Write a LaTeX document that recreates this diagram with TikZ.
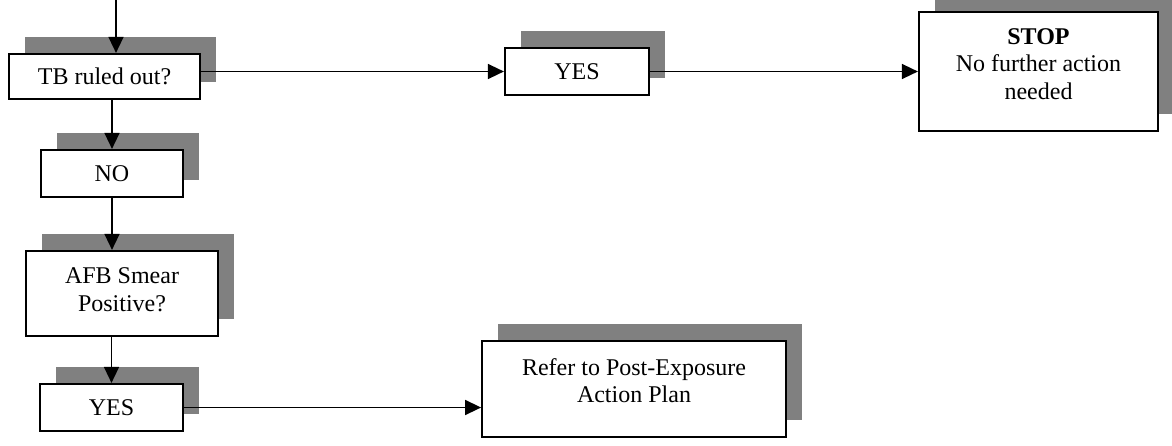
\documentclass[tikz,border=0pt]{standalone}
\usepackage{fontspec}
\setmainfont{Liberation Serif}
\usetikzlibrary{arrows.meta,shadows}

\begin{document}
\begin{tikzpicture}[x=0.5pt,y=-0.5pt,
  every node/.style={font=\fontsize{12}{13.8}\selectfont},
  box/.style={draw,line width=0.9pt,fill=white,align=center,inner sep=0pt,
    drop shadow={shadow xshift=8pt,shadow yshift=8.5pt,fill=gray,opacity=1}},
  arr/.style={line width=0.75pt,-{Triangle[length=8pt,width=7.5pt]}}]
  \useasboundingbox (0,0) rectangle (1172,445);
  % left column
  \node[box,minimum width=95.7pt,minimum height=22.7pt] (tb) at (104.5,76.5) {TB ruled out?};
  \node[box,minimum width=71.2pt,minimum height=23.7pt] (no) at (112,173.5) {NO};
  \node[box,minimum width=96.2pt,minimum height=42.7pt,text depth=4pt] (afb) at (122,293.5) {AFB Smear\\Positive?};
  \node[box,minimum width=71.7pt,minimum height=23.7pt] (yesb) at (111.5,407.5) {YES};
  % right side
  \node[box,minimum width=72.2pt,minimum height=23.7pt] (yesa) at (577,71.5) {YES};
  \node[box,minimum width=119.7pt,minimum height=59.7pt,text depth=7.5pt] (stop) at (1038.5,71.5) {\textbf{STOP}\\No further action\\needed};
  \node[box,minimum width=152pt,minimum height=48pt,text depth=8.5pt] (refer) at (634,389) {Refer to Post-Exposure\\Action Plan};
  % connectors
  \coordinate (top) at (116,0);
  \draw[arr] (top) -- (top |- tb.north);
  \draw[arr] (tb.south -| no.north) -- (no.north);
  \draw[arr] (no.south) -- (no.south |- afb.north);
  \draw[arr] (afb.south -| yesb.north) -- (yesb.north);
  \draw[arr] (yesa.west -| tb.east) -- (yesa.west);
  \draw[arr] (yesa.east) -- (stop.west);
  \draw[arr] (yesb.east) -- (yesb.east -| refer.west);
\end{tikzpicture}
\end{document}
